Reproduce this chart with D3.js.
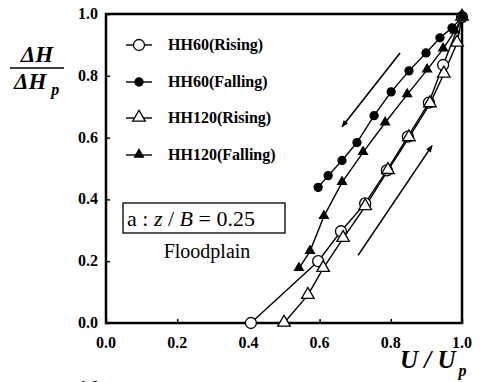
<!DOCTYPE html>
<html>
<head>
<meta charset="utf-8">
<script src="https://cdn.jsdelivr.net/npm/d3@7"></script>
<style>
  body { margin: 0; background: #fff; }
</style>
</head>
<body>
<div id="chart"></div>
<script>
// data: [U/Up, dH/dHp]
var hh60Rising = [[0.407, 0], [0.596, 0.2], [0.66, 0.297], [0.728, 0.387], [0.789, 0.494],
                  [0.848, 0.603], [0.907, 0.713], [0.947, 0.835], [1.0, 0.99]];
var hh60Falling = [[1.0, 0.99], [0.972, 0.955], [0.938, 0.923], [0.899, 0.874], [0.851, 0.816],
                   [0.801, 0.748], [0.753, 0.671], [0.705, 0.584], [0.663, 0.526], [0.624, 0.477], [0.596, 0.439]];
var hh120Rising = [[0.5, 0], [0.567, 0.09], [0.61, 0.177], [0.666, 0.274], [0.728, 0.377], [0.792, 0.494],
                   [0.851, 0.6], [0.91, 0.71], [0.949, 0.806], [0.986, 0.906], [1.0, 0.99]];
var hh120Falling = [[1.0, 0.99], [0.98, 0.945], [0.947, 0.887], [0.902, 0.819], [0.846, 0.739],
                    [0.784, 0.648], [0.722, 0.552], [0.663, 0.455], [0.612, 0.345], [0.573, 0.232], [0.542, 0.177]];
var seriesNames = ["HH60(Rising)", "HH60(Falling)", "HH120(Rising)", "HH120(Falling)"];
var tickValues = [0, 0.2, 0.4, 0.6, 0.8, 1.0];

var width = 482, height = 382;
var serif = "Liberation Serif";
var svg = d3.select("#chart").append("svg").attr("width", width).attr("height", height);

var x = d3.scaleLinear().domain([0, 1]).range([106, 462]);
var y = d3.scaleLinear().domain([0, 1]).range([323, 14]);

var series = [
  {name: seriesNames[0], data: hh60Rising, marker: "circle", fill: "#fff"},
  {name: seriesNames[1], data: hh60Falling, marker: "circle", fill: "#000"},
  {name: seriesNames[2], data: hh120Rising, marker: "triangle", fill: "#fff"},
  {name: seriesNames[3], data: hh120Falling, marker: "triangle", fill: "#000"}
];

function txt(parent, px, py, size, weight) {
  return parent.append("text").attr("x", px).attr("y", py)
    .attr("font-family", serif).attr("font-size", size).attr("font-weight", weight || "normal");
}

function drawMarker(g, s, cx, cy) {
  if (s.marker == "circle") {
    g.append("circle").attr("cx", cx).attr("cy", cy)
     .attr("r", s.fill == "#000" ? 4 : 5.5)
     .attr("fill", s.fill).attr("stroke", "#000").attr("stroke-width", 1.3);
  } else {
    var r = s.fill == "#000" ? 4.2 : 6;
    g.append("path")
     .attr("d", d3.symbol().type(d3.symbolTriangle).size(r * r * 1.9)())
     .attr("transform", "translate(" + cx + "," + (cy - 0.5) + ")")
     .attr("fill", s.fill).attr("stroke", "#000").attr("stroke-width", 1.3);
  }
}

// ticks inward
var axisG = svg.append("g");
axisG.append("g").attr("transform", "translate(0,323)")
  .call(d3.axisBottom(x).tickValues(tickValues).tickSize(-4).tickFormat(""))
  .call(function(g){ g.select(".domain").remove(); g.selectAll("line").attr("stroke-width", 1.5); });
axisG.append("g").attr("transform", "translate(106,0)")
  .call(d3.axisLeft(y).tickValues(tickValues).tickSize(-4).tickFormat(""))
  .call(function(g){ g.select(".domain").remove(); g.selectAll("line").attr("stroke-width", 1.5); });

// frame
svg.append("rect").attr("x", 106).attr("y", 14).attr("width", 356).attr("height", 309)
  .attr("fill", "none").attr("stroke", "#000").attr("stroke-width", 2.5);

// tick labels
tickValues.forEach(function(d){
  txt(svg, x(d), 348, 16, "bold").attr("text-anchor", "middle").text(d3.format(".1f")(d));
  txt(svg, 98, y(d) + 5, 16, "bold").attr("text-anchor", "end").text(d3.format(".1f")(d));
});

// lines and markers
var line = d3.line().x(function(d){ return x(d[0]); }).y(function(d){ return y(d[1]); });
series.forEach(function(s){
  svg.append("path").datum(s.data).attr("d", line)
    .attr("fill", "none").attr("stroke", "#000").attr("stroke-width", 1.4);
});
series.forEach(function(s){
  var g = svg.append("g");
  s.data.forEach(function(d){ drawMarker(g, s, x(d[0]), y(d[1])); });
});

// direction arrows
svg.append("defs").append("marker").attr("id", "ah").attr("viewBox", "0 0 10 10")
  .attr("refX", 9).attr("refY", 5).attr("markerWidth", 8).attr("markerHeight", 7)
  .attr("markerUnits", "userSpaceOnUse").attr("orient", "auto")
  .append("path").attr("d", "M0,1 L10,5 L0,9 Z").attr("fill", "#000");
var arrows = [[[0.826, 0.874], [0.663, 0.635]], [[0.708, 0.219], [0.916, 0.574]]];
arrows.forEach(function(a){
  svg.append("line").attr("x1", x(a[0][0])).attr("y1", y(a[0][1]))
    .attr("x2", x(a[1][0])).attr("y2", y(a[1][1]))
    .attr("stroke", "#000").attr("stroke-width", 1.6).attr("marker-end", "url(#ah)");
});

// legend
var legend = svg.append("g");
series.forEach(function(s, i){
  var ly = [45, 82, 118, 155][i];
  legend.append("line").attr("x1", 126).attr("x2", 152).attr("y1", ly).attr("y2", ly)
    .attr("stroke", "#000").attr("stroke-width", 1.4);
  drawMarker(legend, s, 139, ly);
  txt(legend, 168, ly + 5, 16, "bold").text(s.name);
});

// annotation box
svg.append("rect").attr("x", 123).attr("y", 203).attr("width", 162).attr("height", 30)
  .attr("fill", "#fff").attr("stroke", "#000").attr("stroke-width", 1.3);
var t = txt(svg, 127, 226, 22);
t.append("tspan").text("a : ");
t.append("tspan").attr("font-style", "italic").text("z");
t.append("tspan").text(" / ");
t.append("tspan").attr("font-style", "italic").text("B");
t.append("tspan").text(" = 0.25");
txt(svg, 207, 258, 20).attr("text-anchor", "middle").text("Floodplain");

// axis titles
txt(svg, 37, 62, 23, "bold").attr("font-style", "italic").attr("text-anchor", "middle").text("\u0394H");
svg.append("line").attr("x1", 10).attr("x2", 64).attr("y1", 68).attr("y2", 68)
  .attr("stroke", "#000").attr("stroke-width", 1.5);
var yt = txt(svg, 14, 89, 23, "bold").attr("font-style", "italic");
yt.append("tspan").text("\u0394H");
yt.append("tspan").attr("dx", 5).attr("dy", 6).attr("font-size", 16).text("p");

var xt = txt(svg, 400, 368, 25, "bold").attr("font-style", "italic");
xt.append("tspan").text("U / U");
xt.append("tspan").attr("dx", 3).attr("dy", 8).attr("font-size", 16).text("p");

// top of the next panel's label, cut off at the bottom like in the source
txt(svg, 89, 392, 16, "bold").attr("text-anchor", "middle").text("1.0");
</script>
</body>
</html>
